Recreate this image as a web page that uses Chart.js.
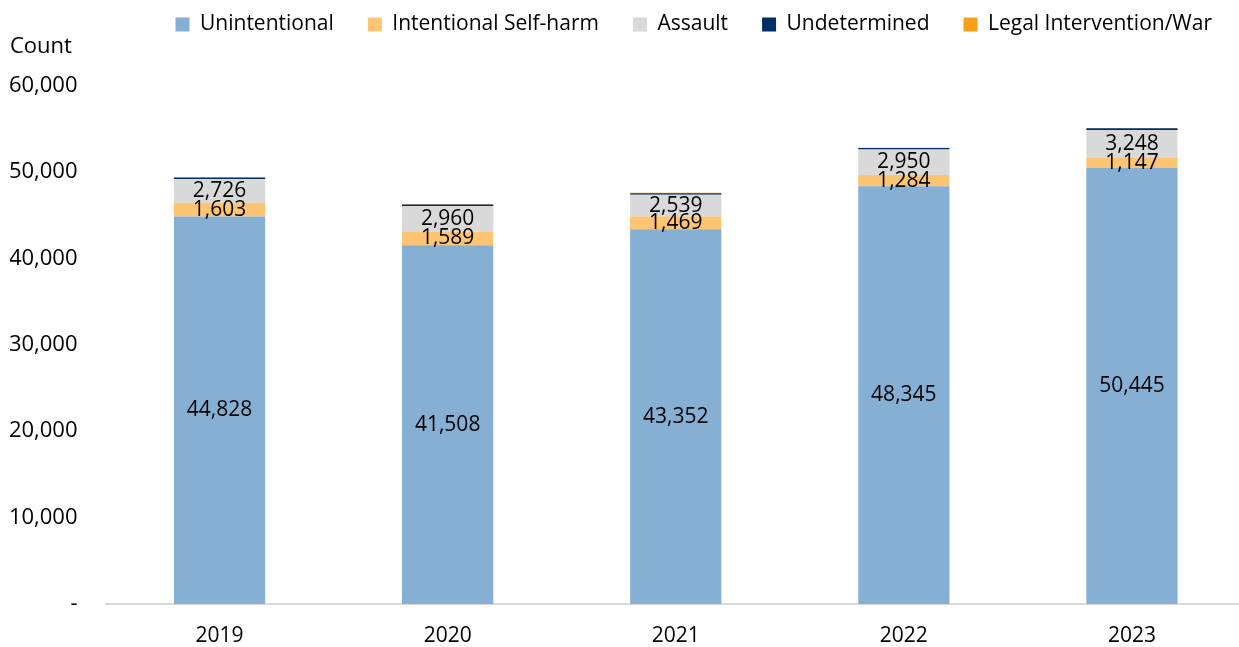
<!DOCTYPE html>
<html><head><meta charset="utf-8">
<script src="https://cdn.jsdelivr.net/npm/chart.js@4/dist/chart.umd.min.js"></script>
<style>
html,body{margin:0;padding:0;overflow:hidden;background:#fff;width:1239px;height:647px;}
#wrap{position:absolute;left:0;top:0;width:1246px;height:647px;}
</style></head>
<body><div id="wrap"><canvas id="c" width="1246" height="647"></canvas></div>
<script>
const years = ['2019','2020','2021','2022','2023'];
const unintentional = [44828, 41508, 43352, 48345, 50445];
const selfHarm = [1603, 1589, 1469, 1284, 1147];
const assault = [2726, 2960, 2539, 2950, 3248];
const undetermined = [190, 170, 160, 180, 200];
const legalWar = [40, 60, 70, 30, 25];
const yTicks = [0, 10000, 20000, 30000, 40000, 50000, 60000];

const FONT = "'Open Sans', 'Noto Sans', sans-serif";

const labelPlugin = {
  id: 'segLabels',
  afterDatasetsDraw(chart) {
    const ctx = chart.ctx;
    ctx.save();
    ctx.font = "21px " + FONT;
    ctx.fillStyle = '#000';
    ctx.textAlign = 'center';
    ctx.textBaseline = 'middle';
    [0, 1, 2].forEach(di => {
      const meta = chart.getDatasetMeta(di);
      meta.data.forEach((el, i) => {
        const v = chart.data.datasets[di].data[i];
        const cy = (el.y + el.base) / 2;
        ctx.fillText(v.toLocaleString('en-US'), el.x, cy);
      });
    });
    ctx.restore();
  }
};

new Chart(document.getElementById('c'), {
  type: 'bar',
  data: {
    labels: years,
    datasets: [
      {label: 'Unintentional', data: unintentional, backgroundColor: '#86AFD4'},
      {label: 'Intentional Self-harm', data: selfHarm, backgroundColor: '#FDC471'},
      {label: 'Assault', data: assault, backgroundColor: '#D9D9D9'},
      {label: 'Undetermined', data: undetermined, backgroundColor: '#002F65'},
      {label: 'Legal Intervention/War', data: legalWar, backgroundColor: '#F6A01A'}
    ]
  },
  options: {
    responsive: false,
    animation: false,
    layout: {padding: {left: 10, top: -20, right: 0, bottom: 0}},
    datasets: {bar: {barPercentage: 0.4, categoryPercentage: 1.0}},
    plugins: {
      legend: {
        position: 'top',
        align: 'end',
        labels: {
          font: {family: FONT, size: 21},
          color: '#000',
          boxWidth: 14, boxHeight: 14,
          padding: 34
        }
      },
      title: {
        display: true,
        text: 'Count',
        align: 'start',
        weight: 500,
        color: '#000',
        font: {family: FONT, size: 22, weight: 'normal'},
        padding: {top: -11, bottom: 25}
      },
      tooltip: {enabled: false}
    },
    scales: {
      x: {
        stacked: true,
        grid: {display: false, drawTicks: false},
        border: {display: true, color: '#D9D9D9', width: 2},
        ticks: {font: {family: FONT, size: 21}, color: '#000', padding: 19},
        afterFit(s) { s.height = 43; }
      },
      y: {
        stacked: true,
        min: 0, max: 60000,
        afterBuildTicks(s) { s.ticks = yTicks.map(v => ({value: v})); },
        grid: {display: false, drawTicks: false},
        border: {display: false},
        ticks: {
          font: {family: FONT, size: 22}, color: '#000', padding: 28,
          callback: v => v === 0 ? '-' : v.toLocaleString('en-US')
        },
        afterFit(s) { s.width = 95.5; }
      }
    }
  },
  plugins: [labelPlugin]
});
</script>
</body></html>
